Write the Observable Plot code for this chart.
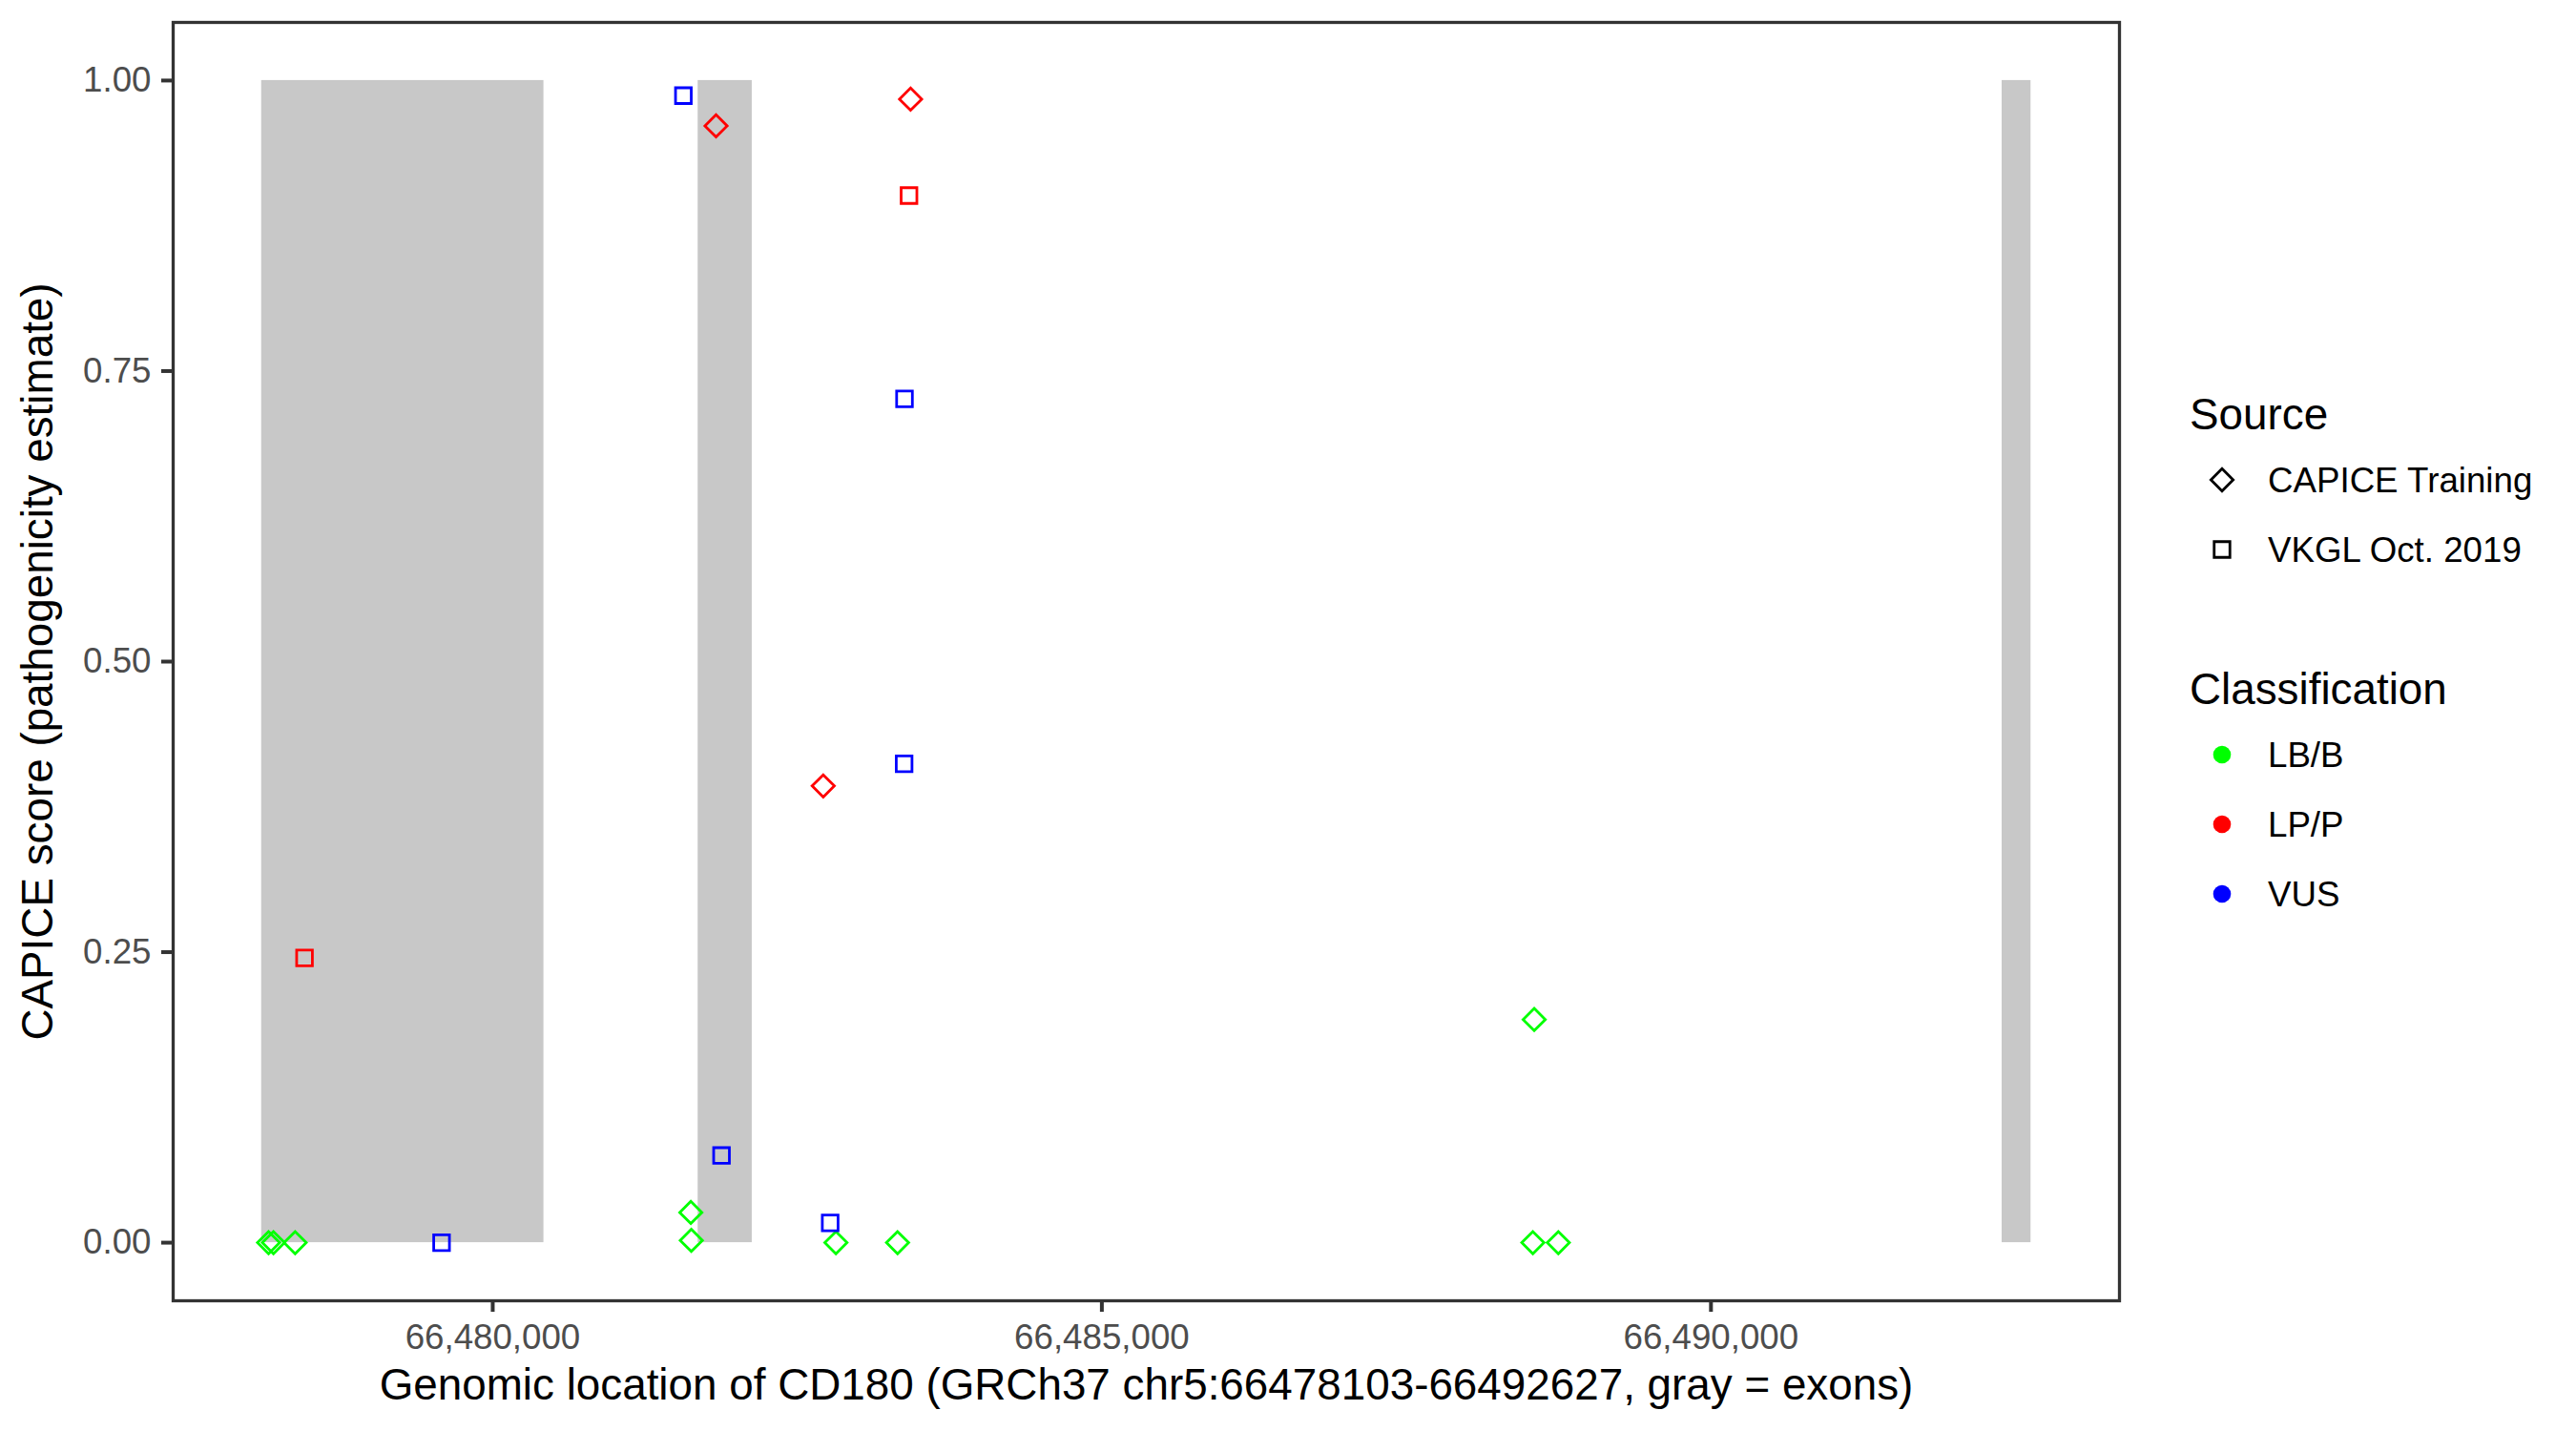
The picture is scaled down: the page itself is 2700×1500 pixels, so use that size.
<!DOCTYPE html>
<html>
<head>
<meta charset="utf-8">
<script src="https://cdn.jsdelivr.net/npm/d3@7"></script>
<script src="https://cdn.jsdelivr.net/npm/@observablehq/plot@0.6"></script>
<style>
  html, body { margin: 0; padding: 0; background: #ffffff; }
  #wrap { position: relative; width: 2700px; height: 1500px; font-family: "Liberation Sans", Arial, Helvetica, sans-serif; }
  #wrap svg { display: block; }
</style>
</head>
<body>
<div id="wrap"></div>
<script>
// ---------- data ----------
const geneStart = 66478103;
const geneEnd = 66492627;

const exonStart = [66478103, 66481686, 66492390];
const exonEnd   = [66480420, 66482130, 66492627];

const variantPos = [
  66481833, 66483430, 66482713, 66488549, 66488538, 66488747, 66478160,
  66478200, 66478378, 66481626, 66481630, 66482817, 66483323,
  66478455, 66483417, 66481565, 66483380, 66483377, 66481878, 66482770, 66479580
];
const variantScore = [
  0.961, 0.984, 0.393, 0.192, 0.0, 0.0, 0.0,
  0.0, 0.0, 0.026, 0.002, 0.0, 0.0,
  0.245, 0.901, 0.987, 0.726, 0.412, 0.075, 0.017, 0.0
];
const variantSource = [
  "CAPICE Training", "CAPICE Training", "CAPICE Training", "CAPICE Training", "CAPICE Training", "CAPICE Training", "CAPICE Training",
  "CAPICE Training", "CAPICE Training", "CAPICE Training", "CAPICE Training", "CAPICE Training", "CAPICE Training",
  "VKGL Oct. 2019", "VKGL Oct. 2019", "VKGL Oct. 2019", "VKGL Oct. 2019", "VKGL Oct. 2019", "VKGL Oct. 2019", "VKGL Oct. 2019", "VKGL Oct. 2019"
];
const variantClass = [
  "LP/P", "LP/P", "LP/P", "LB/B", "LB/B", "LB/B", "LB/B",
  "LB/B", "LB/B", "LB/B", "LB/B", "LB/B", "LB/B",
  "LP/P", "LP/P", "VUS", "VUS", "VUS", "VUS", "VUS", "VUS"
];

const sourceLabels = ["CAPICE Training", "VKGL Oct. 2019"];
const classLabels = ["LB/B", "LP/P", "VUS"];
const xTicks = [66480000, 66485000, 66490000];
const yTicks = [0, 0.25, 0.5, 0.75, 1];

const xTitle = "Genomic location of CD180 (GRCh37 chr5:66478103-66492627, gray = exons)";
const yTitle = "CAPICE score (pathogenicity estimate)";
const sourceTitle = "Source";
const classTitle = "Classification";

// ---------- build ----------
const FONT = "'Liberation Sans', Arial, Helvetica, sans-serif";
const pad = (geneEnd - geneStart) * 0.05;
const exons = exonStart.map((s, i) => ({start: s, end: exonEnd[i]}));
const variants = variantPos.map((p, i) => ({
  pos: p, score: variantScore[i], source: variantSource[i], cls: variantClass[i]
}));

const DOT_R = 10.5;

const chart = Plot.plot({
  width: 2700,
  height: 1500,
  marginLeft: 181,
  marginRight: 479,
  marginTop: 23,
  marginBottom: 137,
  style: {fontFamily: FONT, fontSize: "36.7px", background: "#ffffff", overflow: "visible"},
  x: {domain: [geneStart - pad, geneEnd + pad]},
  y: {domain: [-0.05, 1.05]},
  symbol: {domain: sourceLabels, range: ["diamond2", "square2"]},
  color: {domain: classLabels, range: ["#00ff00", "#ff0000", "#0000ff"]},
  marks: [
    Plot.rect(exons, {x1: "start", x2: "end", y1: 0, y2: 1, fill: "#c8c8c8"}),
    Plot.dot(variants, {x: "pos", y: "score", symbol: "source", stroke: "cls", fill: "none", r: DOT_R, strokeWidth: 2.8}),
    Plot.frame({stroke: "#333333", strokeWidth: 3.3}),
    Plot.axisX({ticks: xTicks, tickFormat: d3.format(","), tickSize: 12, tickPadding: 12,
      stroke: "#333333", strokeWidth: 4, fill: "#4d4d4d", fontSize: 36.7, label: null}),
    Plot.axisY({ticks: yTicks, tickFormat: d3.format(".2f"), tickSize: 12, tickPadding: 11,
      stroke: "#333333", strokeWidth: 4, fill: "#4d4d4d", fontSize: 36.7, label: null}),
    Plot.text([xTitle], {text: d => d, frameAnchor: "bottom", dy: 89, fontSize: 45.8, fill: "#000000",
      lineAnchor: "middle", textAnchor: "middle"}),
    Plot.text([yTitle], {text: d => d, frameAnchor: "left", dx: -141, rotate: -90, fontSize: 45.8, fill: "#000000",
      lineAnchor: "middle", textAnchor: "middle"})
  ]
});

const wrap = document.getElementById("wrap");
wrap.appendChild(chart);

// ---------- legend (uses the chart's own scales) ----------
const colorScale = chart.scale("color");
const symbolScale = chart.scale("symbol");
const symbolMap = {diamond2: d3.symbolDiamond2, square2: d3.symbolSquare2};
function resolveSymbol(s) {
  if (s && typeof s.draw === "function") return s;
  return symbolMap[String(s).toLowerCase()] || d3.symbolCircle;
}

const leg = d3.create("svg")
  .attr("width", 2700).attr("height", 1500)
  .style("position", "absolute").style("left", "0px").style("top", "0px")
  .style("font-family", FONT);

const titleX = 2295, keyX = 2329, textX = 2377, step = 73;

leg.append("text").attr("x", titleX).attr("y", 450)
  .attr("font-size", 45.8).attr("fill", "#000").text(sourceTitle);
sourceLabels.forEach((lab, i) => {
  const cy = 503 + i * step;
  const sym = resolveSymbol(symbolScale.apply ? symbolScale.apply(lab) : symbolScale.range[i]);
  leg.append("path")
    .attr("transform", `translate(${keyX},${cy})`)
    .attr("d", d3.symbol(sym, Math.PI * DOT_R * DOT_R)())
    .attr("fill", "none").attr("stroke", "#000").attr("stroke-width", 2.8);
  leg.append("text").attr("x", textX).attr("y", cy + 13)
    .attr("font-size", 36.7).attr("fill", "#000").text(lab);
});

leg.append("text").attr("x", titleX).attr("y", 738)
  .attr("font-size", 45.8).attr("fill", "#000").text(classTitle);
classLabels.forEach((lab, i) => {
  const cy = 791 + i * step;
  leg.append("circle").attr("cx", keyX).attr("cy", cy).attr("r", 9.3)
    .attr("fill", colorScale.apply(lab));
  leg.append("text").attr("x", textX).attr("y", cy + 13)
    .attr("font-size", 36.7).attr("fill", "#000").text(lab);
});

wrap.appendChild(leg.node());
</script>
</body>
</html>
